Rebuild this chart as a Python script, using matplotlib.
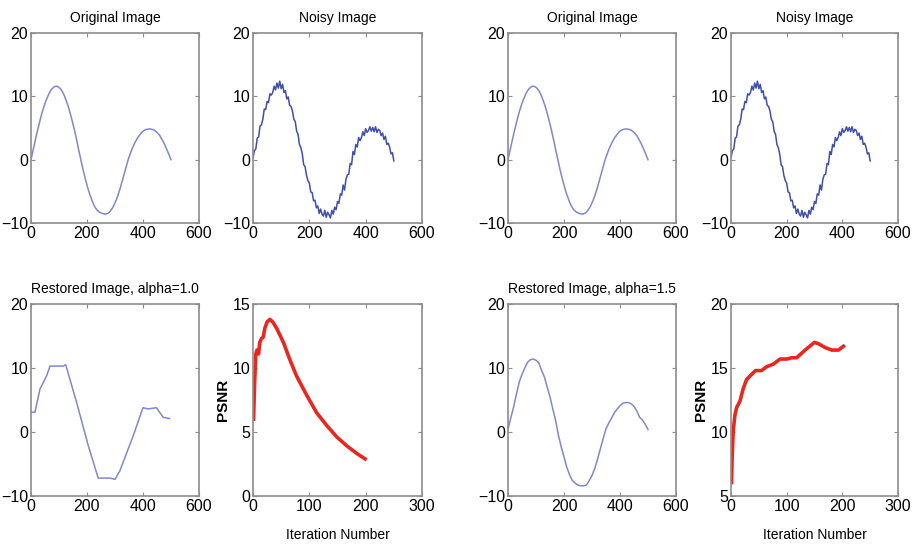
import matplotlib
matplotlib.use('Agg')
import matplotlib.pyplot as plt

plt.rcParams['font.family'] = ['Liberation Sans', 'DejaVu Sans']

# signal samples (x every 5)
x_sig = list(range(0, 505, 5))
original = [0, 1.0, 2.0, 3.0, 4.0, 4.9, 5.8, 6.7, 7.5, 8.2, 8.9, 9.5, 10.0, 10.5, 10.9, 11.2,
            11.4, 11.55, 11.6, 11.55, 11.4, 11.2, 10.9, 10.5, 10.0, 9.4, 8.8, 8.1, 7.3, 6.5,
            5.6, 4.7, 3.7, 2.7, 1.6, 0.6, -0.4, -1.4, -2.3, -3.2, -4.0, -4.8, -5.5, -6.1, -6.7,
            -7.2, -7.6, -7.9, -8.1, -8.3, -8.4, -8.5, -8.55, -8.6, -8.55, -8.45, -8.3, -8.0,
            -7.7, -7.3, -6.8, -6.3, -5.7, -5.0, -4.3, -3.5, -2.7, -1.9, -1.1, -0.3, 0.4, 1.0,
            1.6, 2.1, 2.6, 3.0, 3.4, 3.7, 4.0, 4.3, 4.5, 4.65, 4.75, 4.8, 4.85, 4.85, 4.8, 4.75,
            4.65, 4.5, 4.3, 4.05, 3.8, 3.4, 3.0, 2.6, 2.1, 1.6, 1.1, 0.55, 0]
noisy = [0.3, 1.4, 1.7, 3.4, 3.6, 5.3, 5.5, 6.4, 8.0, 7.9, 9.2, 9.0, 10.4, 10.2, 10.6, 11.6,
         11.0, 12.1, 11.3, 12.4, 11.2, 11.9, 10.6, 10.9, 9.6, 9.9, 8.6, 8.4, 7.7, 6.4, 6.0,
         4.5, 4.0, 2.4, 1.9, 0.9, -0.8, -1.1, -2.5, -3.3, -3.7, -5.1, -5.2, -6.5, -6.4, -7.6,
         -7.3, -8.5, -7.8, -8.6, -8.9, -8.0, -9.1, -8.3, -8.7, -9.2, -8.0, -8.6, -7.5, -7.9,
         -6.6, -6.9, -5.4, -5.6, -4.0, -4.8, -3.1, -2.4, -2.3, -0.6, -0.8, 1.3, 0.8, 2.4, 2.0,
         3.5, 3.0, 3.5, 4.4, 3.8, 4.9, 4.3, 4.6, 5.2, 4.5, 5.1, 4.4, 5.2, 4.3, 4.8, 4.6, 3.8,
         4.2, 3.2, 3.7, 2.4, 2.6, 2.0, 0.9, 1.1, -0.2]

# restored, alpha = 1.0
x_rest1 = [0, 14, 32, 56, 68, 115, 124, 163, 205, 240, 282, 300, 317, 365, 400, 418, 448, 472, 495]
rest1 = [3.1, 3.1, 6.7, 8.8, 10.3, 10.3, 10.5, 4.6, -2.2, -7.2, -7.2, -7.4, -6.1, -0.6, 3.8, 3.6, 3.8, 2.3, 2.1]

# restored, alpha = 1.5 (x every 10)
x_rest2 = list(range(0, 510, 10))
rest2 = [0.4, 2.2, 3.9, 5.9, 7.8, 9.0, 10.0, 10.9, 11.3, 11.4, 11.2, 10.8, 9.6, 8.6, 7.0, 5.5,
         3.6, 1.8, -0.5, -2.3, -3.9, -5.5, -6.7, -7.6, -8.0, -8.3, -8.4, -8.4, -8.3, -7.6,
         -6.8, -5.7, -4.2, -2.6, -1.0, 0.5, 1.4, 2.2, 3.0, 3.6, 4.1, 4.5, 4.6, 4.6, 4.4, 4.0,
         3.3, 2.3, 1.9, 1.2, 0.4]

# PSNR curves
it1 = [1, 3, 5, 7, 10, 12, 15, 18, 21, 25, 30, 35, 42, 54, 65, 77, 95, 113, 131, 149, 167, 185, 199]
psnr1 = [6.0, 9.0, 11.1, 11.4, 11.1, 12.0, 12.3, 12.4, 13.1, 13.6, 13.8, 13.6, 13.1, 12.0, 10.7,
         9.4, 7.9, 6.5, 5.5, 4.6, 3.9, 3.3, 2.9]
it2 = [1, 2, 4, 7, 10, 16, 22, 28, 37, 44, 55, 64, 76, 88, 100, 109, 118, 133, 150, 157, 169, 181, 193, 202]
psnr2 = [6.05, 8.0, 10.1, 11.3, 11.9, 12.4, 13.4, 14.1, 14.5, 14.8, 14.8, 15.1, 15.3, 15.7, 15.7,
         15.8, 15.8, 16.4, 17.0, 16.9, 16.6, 16.4, 16.4, 16.7]

W, H = 914, 554
fig = plt.figure(figsize=(W / 100, H / 100), dpi=100)

cols = [(31, 199), (253, 422), (508, 676), (731, 898)]
rows = [(33, 223), (304, 496)]


def make_ax(c, r):
    l, rr = cols[c]
    t, b = rows[r]
    ax = fig.add_axes([l / W, 1 - b / H, (rr - l) / W, (b - t) / H])
    for s in ax.spines.values():
        s.set_color('#8c8c8c')
        s.set_linewidth(1.2)
    ax.tick_params(direction='in', length=3, width=0.8, color='#8c8c8c',
                   top=True, right=True, labelsize=11.5, pad=2)
    return ax


def signal_ax(ax, x, y, title, color, lw):
    ax.plot(x, y, color=color, lw=lw)
    ax.set_xlim(0, 600)
    ax.set_ylim(-10, 20)
    ax.set_xticks([0, 200, 400, 600])
    ax.set_yticks([-10, 0, 10, 20])
    ax.set_title(title, fontsize=10, pad=8)


def psnr_ax(ax, x, y, ylim, yticks):
    ax.plot(x, y, color='#e8281e', lw=2.6)
    ax.set_xlim(0, 300)
    ax.set_ylim(*ylim)
    ax.set_xticks([0, 100, 200, 300])
    ax.set_yticks(yticks)
    ax.set_xlabel('Iteration Number', fontsize=10, labelpad=10)
    ax.set_ylabel('PSNR', fontsize=11, fontweight='bold', labelpad=2)


light = '#8088cc'
dark = '#3f4fae'

for g in range(2):
    c0 = g * 2
    signal_ax(make_ax(c0, 0), x_sig, original, 'Original Image', light, 1.1)
    signal_ax(make_ax(c0 + 1, 0), x_sig, noisy, 'Noisy Image', dark, 1.1)

signal_ax(make_ax(0, 1), x_rest1, rest1, 'Restored Image, alpha=1.0', light, 1.1)
psnr_ax(make_ax(1, 1), it1, psnr1, (0, 15), [0, 5, 10, 15])
signal_ax(make_ax(2, 1), x_rest2, rest2, 'Restored Image, alpha=1.5', light, 1.1)
psnr_ax(make_ax(3, 1), it2, psnr2, (5, 20), [5, 10, 15, 20])

fig.savefig('out.png', dpi=100)
